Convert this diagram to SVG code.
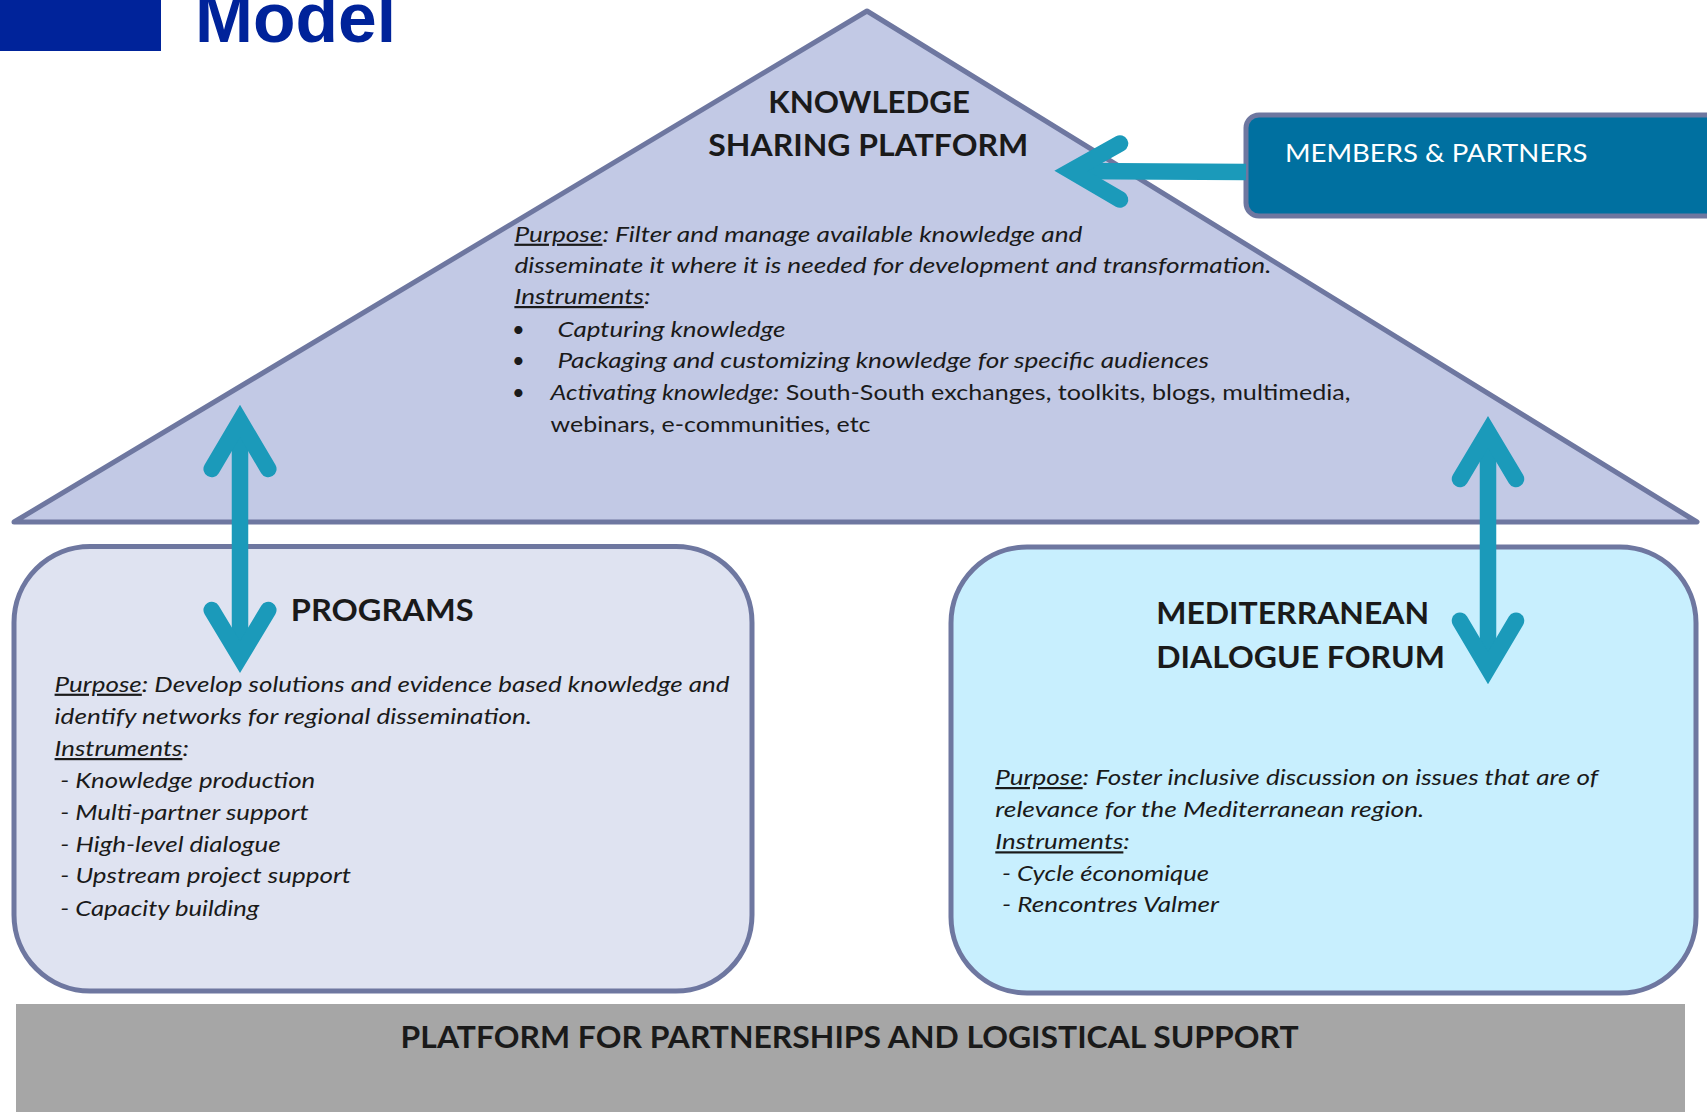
<svg xmlns="http://www.w3.org/2000/svg" width="1707" height="1112" viewBox="0 0 1707 1112">
<style>
.t{font-family:Lato,"Open Sans","Liberation Sans",sans-serif;fill:#1a1a1a}
.h{font-weight:700;font-size:30px}
.b{font-style:italic;font-size:22px}
.r{font-style:normal}
.u{text-decoration:underline}
.node{stroke:#6e77a0;stroke-width:5}
.arr{stroke:#1b9aba;stroke-width:16.5;fill:none;stroke-linejoin:miter;stroke-miterlimit:10}
.cap{stroke-linecap:round}
</style>
<rect width="1707" height="1112" fill="#ffffff"/>
<g id="title">
<rect x="0" y="0" width="161" height="51" fill="#00239a"/>
<text x="195" y="42" font-family="'Liberation Sans',Arial,sans-serif" font-weight="700" font-size="70" fill="#00239a" textLength="201" lengthAdjust="spacingAndGlyphs">Model</text>
</g>
<g id="platform-bar">
<rect x="16" y="1004" width="1669" height="108" fill="#a6a6a6"/>
<text class="t h" x="400.6" y="1048.3" textLength="898" lengthAdjust="spacingAndGlyphs">PLATFORM FOR PARTNERSHIPS AND LOGISTICAL SUPPORT</text>
</g>
<g id="knowledge-sharing-platform">
<polygon class="node" points="867,11 1697,522 14,522" fill="#c2c9e5" stroke-linejoin="round"/>
<text class="t h" x="768.3" y="112.7" textLength="201.7" lengthAdjust="spacingAndGlyphs">KNOWLEDGE</text>
<text class="t h" x="708.3" y="156" textLength="320" lengthAdjust="spacingAndGlyphs">SHARING PLATFORM</text>
<text class="t b" x="514.4" y="241.7" textLength="568" lengthAdjust="spacingAndGlyphs"><tspan class="u">Purpose</tspan>: Filter and manage available knowledge and</text>
<text class="t b" x="514.4" y="272.7" textLength="757" lengthAdjust="spacingAndGlyphs">disseminate it where it is needed for development and transformation.</text>
<text class="t b" x="514.4" y="304" textLength="136" lengthAdjust="spacingAndGlyphs"><tspan class="u">Instruments</tspan>:</text>
<text class="t" x="512" y="336.7" font-size="22">•</text>
<text class="t b" x="557.4" y="336.7" textLength="228" lengthAdjust="spacingAndGlyphs">Capturing knowledge</text>
<text class="t" x="512" y="368.3" font-size="22">•</text>
<text class="t b" x="557.4" y="368.3" textLength="651.6" lengthAdjust="spacingAndGlyphs">Packaging and customizing knowledge for specific audiences</text>
<text class="t" x="512" y="400" font-size="22">•</text>
<text class="t b" x="550.5" y="400" textLength="800" lengthAdjust="spacingAndGlyphs">Activating knowledge:<tspan class="r"> South-South exchanges, toolkits, blogs, multimedia,</tspan></text>
<text class="t" x="550.5" y="431.7" font-size="22" textLength="320" lengthAdjust="spacingAndGlyphs">webinars, e-communities, etc</text>
</g>
<g id="members-partners">
<rect class="node" x="1246" y="115" width="475" height="101" rx="13" fill="#0070a0"/>
<text x="1285" y="161.7" font-family="Lato,'Open Sans','Liberation Sans',sans-serif" font-size="25.5" fill="#ffffff" textLength="302.5" lengthAdjust="spacingAndGlyphs">MEMBERS &amp; PARTNERS</text>
</g>
<g id="programs">
<rect class="node" x="14" y="546.5" width="738" height="444.5" rx="76" fill="#dfe3f1"/>
<text class="t h" x="290.8" y="620.7" font-size="29" textLength="182.7" lengthAdjust="spacingAndGlyphs">PROGRAMS</text>
<text class="t b" x="54.6" y="691.7" textLength="675" lengthAdjust="spacingAndGlyphs"><tspan class="u">Purpose</tspan>: Develop solutions and evidence based knowledge and</text>
<text class="t b" x="54.6" y="724" textLength="477.4" lengthAdjust="spacingAndGlyphs">identify networks for regional dissemination.</text>
<text class="t b" x="54.6" y="756" textLength="134.2" lengthAdjust="spacingAndGlyphs"><tspan class="u">Instruments</tspan>:</text>
<text class="t b" x="60.2" y="787.7" textLength="255" lengthAdjust="spacingAndGlyphs">- Knowledge production</text>
<text class="t b" x="60.2" y="820" textLength="248.5" lengthAdjust="spacingAndGlyphs">- Multi-partner support</text>
<text class="t b" x="60.2" y="851.7" textLength="220.4" lengthAdjust="spacingAndGlyphs">- High-level dialogue</text>
<text class="t b" x="60.2" y="883.3" textLength="290.8" lengthAdjust="spacingAndGlyphs">- Upstream project support</text>
<text class="t b" x="60.2" y="915.7" textLength="199" lengthAdjust="spacingAndGlyphs">- Capacity building</text>
</g>
<g id="mediterranean-dialogue-forum">
<rect class="node" x="951" y="547" width="745" height="446" rx="76" fill="#c8effe"/>
<text class="t h" x="1156.2" y="624" font-size="29.5" textLength="273" lengthAdjust="spacingAndGlyphs">MEDITERRANEAN</text>
<text class="t h" x="1156.2" y="668.3" font-size="29.5" textLength="288.7" lengthAdjust="spacingAndGlyphs">DIALOGUE FORUM</text>
<text class="t b" x="995.3" y="785" textLength="602.7" lengthAdjust="spacingAndGlyphs"><tspan class="u">Purpose</tspan>: Foster inclusive discussion on issues that are of</text>
<text class="t b" x="995.3" y="816.7" textLength="429" lengthAdjust="spacingAndGlyphs">relevance for the Mediterranean region.</text>
<text class="t b" x="995.3" y="849.3" textLength="134.5" lengthAdjust="spacingAndGlyphs"><tspan class="u">Instruments</tspan>:</text>
<text class="t b" x="1002" y="881" textLength="207" lengthAdjust="spacingAndGlyphs">- Cycle économique</text>
<text class="t b" x="1002" y="912.3" textLength="217" lengthAdjust="spacingAndGlyphs">- Rencontres Valmer</text>
</g>
<g id="connectors">
<path class="arr" d="M1071,171 L1246,172"/>
<path class="arr cap" d="M1120,143.5 L1071,171 L1120,199.5"/>
<path class="arr" d="M240,421 L240,657"/>
<path class="arr cap" d="M211.7,469 L240,421 L268.3,469"/>
<path class="arr cap" d="M211.7,610 L240,657 L268.3,610"/>
<path class="arr" d="M1488,432 L1488,668"/>
<path class="arr cap" d="M1460,479 L1488,432 L1516,479"/>
<path class="arr cap" d="M1460,620.7 L1488,668 L1516,620.7"/>
</g>
</svg>
